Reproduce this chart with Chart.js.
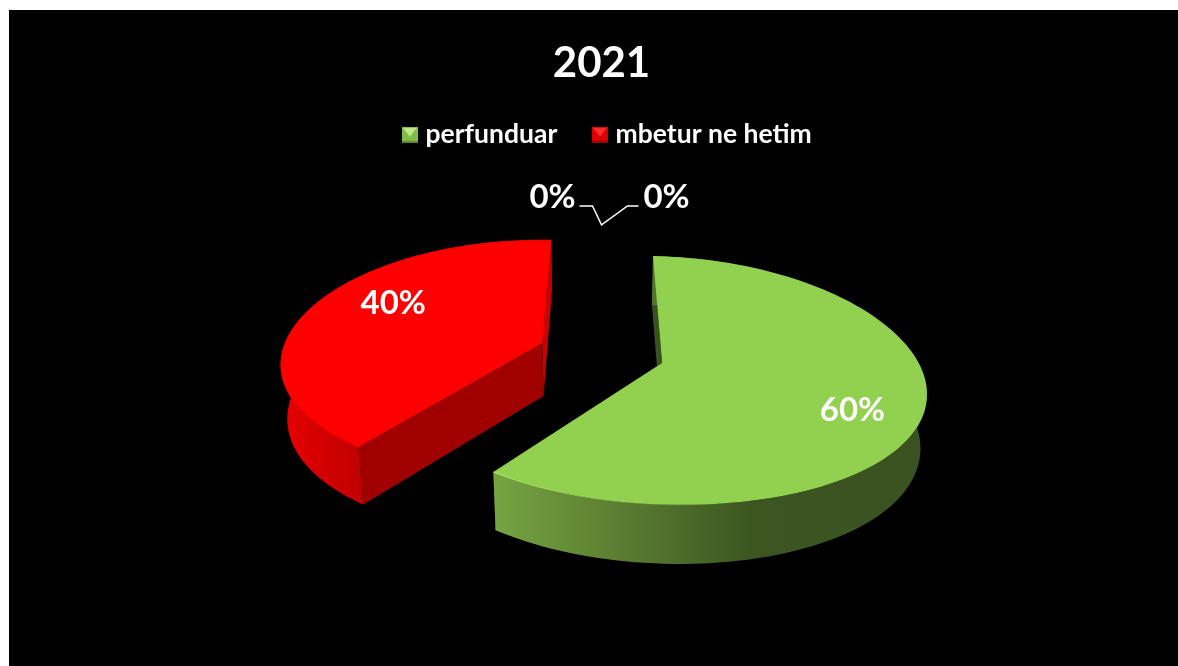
<!DOCTYPE html>
<html>
<head>
<meta charset="utf-8">
<title>2021</title>
<script src="https://cdn.jsdelivr.net/npm/chart.js@4/dist/chart.umd.js"></script>
<style>
    html, body { margin: 0; padding: 0; background: #fff; overflow: hidden; }
    #chart { position: absolute; left: 9px; top: 10px; background: #000; }
</style>
</head>
<body>
<canvas id="chart" width="1169" height="656"></canvas>
<script>
(function() {
    "use strict";

    var categories = ['perfunduar', 'mbetur ne hetim', 'tjeter a', 'tjeter b'];
    var values = [60, 40, 0, 0];
    var titleText = '2021';

    var topColors = ['#92d050', '#ff0000', '#92d050', '#ff0000'];
    var rimColors = ['#b4ea6c', '#e80000'];
    var rimFades = ['rgba(146,208,80,0)', '#e80000'];
    var cutColors = ['#3a5220', '#a00000'];
    var endColors = ['#3a5220', '#cc0000'];
    var wallStops = [
        [[0, '#76a442'], [0.6, '#3c5521'], [1, '#3a5220']],
        [[0, '#e60000'], [1, '#c20000']]
    ];
    var legendBevel = [
        ['#82bb45', '#bce88a', '#5f8a30'],
        ['#dc0000', '#ff2a2a', '#a00000']
    ];

    var fontName = 'Lato, Carlito, Calibri, sans-serif';

    // how the flat pie is tipped over: plane to screen
    var view = { tilt: 0.4646, skewY: 0.0156, depth: 0.2105, kx: 0.175, ky: 0.138, m: 0.005, shrink: 0.02, explode: 0.245 };
    var labelRadius = [0.759, 0.716];
    var labelTurn = [9, 10];

    function total() {
        return values.reduce(function(a, b) { return a + b; }, 0);
    }

    function project(arc, u, v, z) {
        var wx = 1 - view.kx * v + view.m * u;
        var wy = 1 - view.ky * v + view.m * u;
        var s = 1 - view.shrink * z;
        var R = arc.outerRadius;
        return {
            x: arc.x + R * u * s / wx,
            y: arc.y + R * (view.tilt * v + view.skewY * u + view.depth * z) * s / wy
        };
    }

    function rimPoints(arc, z) {
        var mid = (arc.startAngle + arc.endAngle) / 2;
        var ou = view.explode * Math.cos(mid), ov = view.explode * Math.sin(mid);
        var pts = [];
        for (var i = 0; i <= 120; i++) {
            var a = arc.startAngle + (arc.endAngle - arc.startAngle) * i / 120;
            pts.push(project(arc, ou + Math.cos(a), ov + Math.sin(a), z));
        }
        return { pts: pts, apex: project(arc, ou, ov, z) };
    }

    function poly(ctx, pts, color) {
        ctx.beginPath();
        pts.forEach(function(p, i) {
            if (i === 0) { ctx.moveTo(p.x, p.y); } else { ctx.lineTo(p.x, p.y); }
        });
        ctx.closePath();
        ctx.fillStyle = color;
        ctx.fill();
    }

    function drawSlice(ctx, arc, i) {
        var top = rimPoints(arc, 0), bottom = rimPoints(arc, 1);
        var last = top.pts.length - 1;

        // flat walls left by the explosion
        poly(ctx, [top.apex, top.pts[last], bottom.pts[last], bottom.apex], endColors[i]);
        poly(ctx, [top.apex, top.pts[0], bottom.pts[0], bottom.apex], cutColors[i]);

        // round wall
        var xs = top.pts.concat(bottom.pts).map(function(p) { return p.x; });
        var frontX = i === 0 ? top.pts[last].x : Math.min.apply(null, xs);
        var backX = i === 0 ? Math.max.apply(null, xs) : top.pts[0].x;
        var g = ctx.createLinearGradient(frontX, 0, backX, 0);
        wallStops[i].forEach(function(s) { g.addColorStop(s[0], s[1]); });
        poly(ctx, top.pts.concat(bottom.pts.slice().reverse()), g);

        // top face
        poly(ctx, [top.apex].concat(top.pts), topColors[i]);

        // thin bevel along the rim, green one fades out towards the right
        ctx.beginPath();
        top.pts.slice(i === 0 ? Math.round(last * 0.6) : 0).forEach(function(p, n) {
            if (n === 0) { ctx.moveTo(p.x, p.y); } else { ctx.lineTo(p.x, p.y); }
        });
        var rim = ctx.createLinearGradient(top.pts[last].x, 0, top.pts[last].x + 260, 0);
        rim.addColorStop(0, rimColors[i]);
        rim.addColorStop(1, rimFades[i]);
        ctx.strokeStyle = i === 0 ? rim : rimColors[i];
        ctx.lineWidth = 1;
        ctx.stroke();
    }

    var pie3d = {
        id: 'pie3d',
        afterLayout: function(chart) {
            // legend sits a little right of the title in the original
            chart.legend.left += 8;
            chart.legend.right += 8;
        },
        beforeDatasetDraw: function(chart) {
            var ctx = chart.ctx;
            var arcs = chart.getDatasetMeta(0).data;
            ctx.save();
            drawSlice(ctx, arcs[1], 1);
            drawSlice(ctx, arcs[0], 0);
            ctx.restore();
            return false;
        },
        afterDatasetsDraw: function(chart) {
            var ctx = chart.ctx;
            var arcs = chart.getDatasetMeta(0).data;
            var sum = total();
            ctx.save();
            ctx.fillStyle = '#fff';
            ctx.font = 'bold 33px ' + fontName;
            ctx.textAlign = 'center';
            ctx.textBaseline = 'middle';

            [0, 1].forEach(function(i) {
                var arc = arcs[i];
                var mid = (arc.startAngle + arc.endAngle) / 2;
                var ou = view.explode * Math.cos(mid), ov = view.explode * Math.sin(mid);
                var a = mid + labelTurn[i] * Math.PI / 180;
                var p = project(arc, ou + labelRadius[i] * Math.cos(a), ov + labelRadius[i] * Math.sin(a), 0);
                ctx.fillText(Math.round(values[i] / sum * 100) + '%', p.x, p.y);
            });

            // the two empty slices get leader lines up to their labels
            var elbow = project(arcs[2], 0, -1.26, 0);
            ctx.fillText(Math.round(values[2] / sum * 100) + '%', elbow.x - 49, elbow.y - 28);
            ctx.fillText(Math.round(values[3] / sum * 100) + '%', elbow.x + 65, elbow.y - 28);
            ctx.strokeStyle = '#fff';
            ctx.lineWidth = 1.5;
            ctx.beginPath();
            ctx.moveTo(elbow.x - 22, elbow.y - 19);
            ctx.lineTo(elbow.x - 9, elbow.y - 19);
            ctx.lineTo(elbow.x, elbow.y);
            ctx.lineTo(elbow.x + 26, elbow.y - 19);
            ctx.lineTo(elbow.x + 37, elbow.y - 19);
            ctx.stroke();
            ctx.restore();
        }
    };

    function bevelMarker(shades) {
        var s = 16, c = document.createElement('canvas');
        c.width = s;
        c.height = s;
        var x = c.getContext('2d');
        x.fillStyle = shades[0];
        x.fillRect(0, 0, s, s);
        x.beginPath();
        x.moveTo(1, 1);
        x.lineTo(s - 1, 1);
        x.lineTo(s / 2, s - 6);
        x.closePath();
        x.fillStyle = shades[1];
        x.fill();
        x.fillStyle = shades[2];
        x.fillRect(0, s - 2, s, 2);
        return c;
    }

    var markers = [bevelMarker(legendBevel[0]), bevelMarker(legendBevel[1])];

    var ctx = document.getElementById('chart').getContext('2d');
    new Chart(ctx, {
        type: 'pie',
        plugins: [pie3d],
        data: {
            labels: categories,
            datasets: [{
                data: values,
                backgroundColor: topColors,
                borderWidth: 0,
                radius: 257
            }]
        },
        options: {
            responsive: false,
            animation: false,
            layout: { padding: { left: 16, right: 0, top: 0, bottom: 118 } },
            plugins: {
                tooltip: { enabled: false },
                title: {
                    display: true,
                    text: titleText,
                    color: '#fff',
                    font: { family: fontName, size: 42, weight: 'bold', lineHeight: 0.8 },
                    padding: { top: 37, bottom: 1 }
                },
                legend: {
                    position: 'top',
                    labels: {
                        color: '#fff',
                        font: { family: fontName, size: 26.5, weight: 'bold' },
                        usePointStyle: true,
                        pointStyleWidth: 5,
                        padding: 40,
                        generateLabels: function() {
                            return [0, 1].map(function(i) {
                                return {
                                    text: categories[i],
                                    fontColor: '#fff',
                                    pointStyle: markers[i],
                                    hidden: false,
                                    index: i,
                                    datasetIndex: 0,
                                    lineWidth: 0
                                };
                            });
                        }
                    }
                }
            }
        }
    });
})();
</script>
</body>
</html>
